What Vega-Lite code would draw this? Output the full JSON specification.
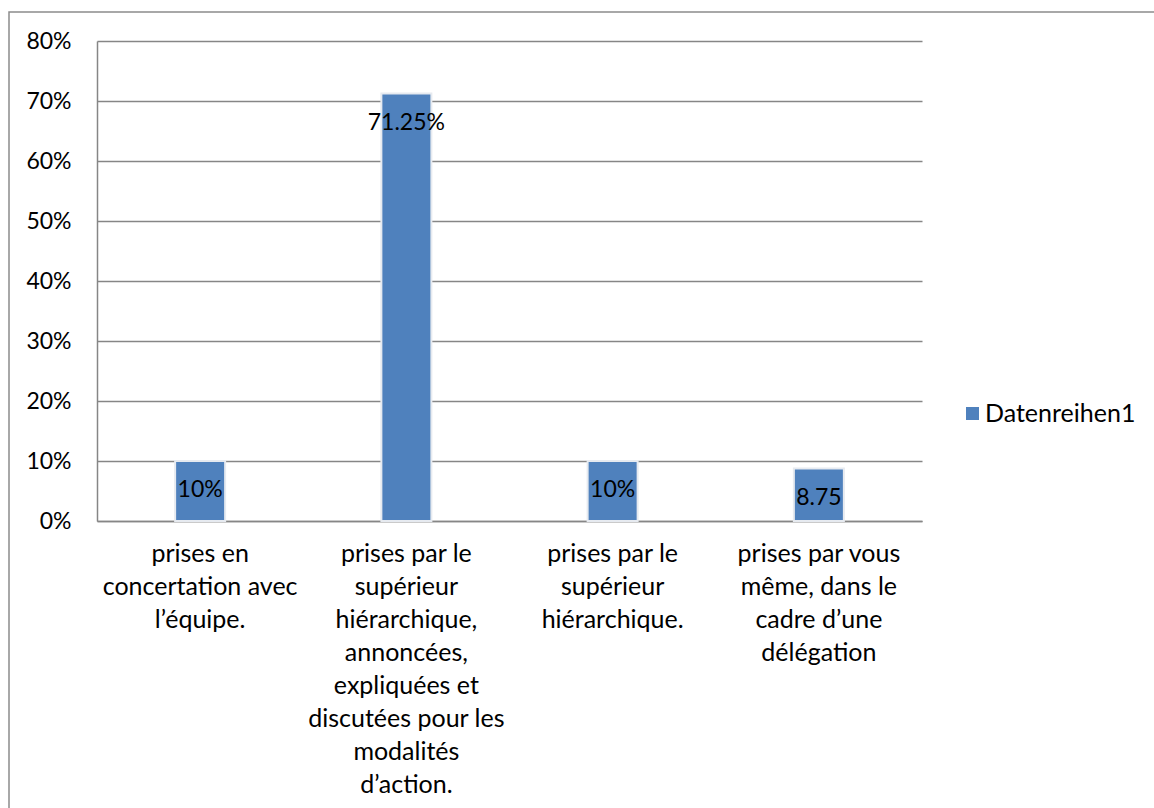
{
  "$schema": "https://vega.github.io/schema/vega-lite/v6.json",
  "width": 1152,
  "height": 806,
  "autosize": "none",
  "padding": {"left": 9, "top": 12, "right": 0, "bottom": 0},
  "background": "white",
  "config": {
    "font": "Lato",
    "view": {"stroke": "#8c8c8c", "strokeWidth": 1.5, "fill": "white"},
    "axis": {
      "labelFont": "Lato",
      "labelFontSize": 23,
      "labelColor": "#000000",
      "domainColor": "#868686",
      "domainWidth": 1.5,
      "gridColor": "#868686",
      "gridWidth": 1.5,
      "ticks": false,
      "tickSize": 0,
      "title": null
    }
  },
  "data": {
    "values": [
      {"decision": "prises en\nconcertation avec\nl’équipe.", "part": 0.1, "texte": "10%", "serie": "Datenreihen1"},
      {"decision": "prises par le\nsupérieur\nhiérarchique,\nannoncées,\nexpliquées et\ndiscutées pour les\nmodalités\nd’action.", "part": 0.7125, "texte": "71.25%", "serie": "Datenreihen1"},
      {"decision": "prises par le\nsupérieur\nhiérarchique.", "part": 0.1, "texte": "10%", "serie": "Datenreihen1"},
      {"decision": "prises par vous\nmême, dans le\ncadre d’une\ndélégation", "part": 0.0875, "texte": "8.75", "serie": "Datenreihen1"}
    ]
  },
  "encoding": {
    "x": {
      "field": "decision",
      "type": "nominal",
      "sort": null,
      "scale": {"range": [88, 913], "paddingInner": 0, "paddingOuter": 0},
      "axis": {
        "orient": "bottom",
        "offset": -297,
        "labelAngle": 0,
        "labelFontSize": 25,
        "labelPadding": 20,
        "labelLimit": 0,
        "labelLineHeight": 33,
        "labelExpr": "split(datum.label, '\\n')",
        "grid": false
      }
    },
    "y": {
      "field": "part",
      "type": "quantitative",
      "scale": {"domain": [0, 0.8], "range": [509, 29], "nice": false, "zero": true},
      "axis": {
        "orient": "left",
        "offset": -88,
        "values": [0, 0.1, 0.2, 0.3, 0.4, 0.5, 0.6, 0.7, 0.8],
        "format": ".0%",
        "labelPadding": 26,
        "grid": true
      }
    }
  },
  "layer": [
    {
      "mark": {"type": "bar", "width": 50, "stroke": "#e6eaf0", "strokeWidth": 2},
      "encoding": {
        "color": {
          "field": "serie",
          "type": "nominal",
          "scale": {"range": ["#4f81bd"]},
          "legend": {
            "title": null,
            "orient": "none",
            "legendX": 951,
            "legendY": 389,
            "padding": 0,
            "symbolType": "square",
            "symbolSize": 169,
            "symbolStrokeWidth": 0,
            "labelFont": "Lato",
            "labelFontSize": 25,
            "labelColor": "#000000",
            "labelOffset": 0
          }
        }
      }
    },
    {
      "mark": {"type": "text", "baseline": "middle", "align": "center", "dy": 29, "font": "Lato", "fontSize": 23, "color": "#000000"},
      "encoding": {"text": {"field": "texte"}}
    }
  ]
}
